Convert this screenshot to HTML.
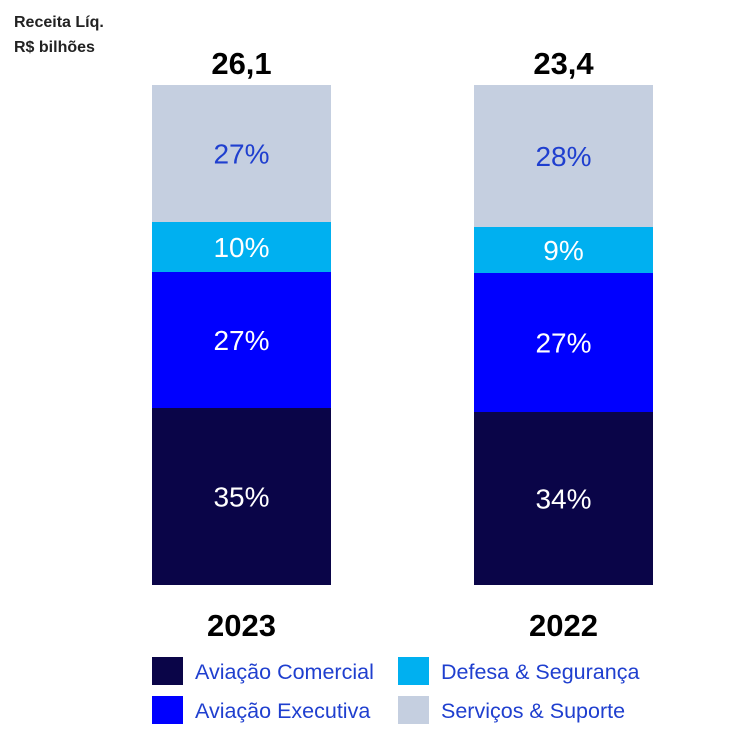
<!DOCTYPE html>
<html><head><meta charset="utf-8"><style>
body{margin:0;background:#fff;}
svg{display:block;font-family:"Liberation Sans",sans-serif;}
</style></head><body>
<svg id="chart" width="738" height="741" viewBox="0 0 738 741">
<text x="14" y="27" font-size="16" font-weight="bold" fill="#222">Receita Líq.</text>
<text x="14" y="52" font-size="16" font-weight="bold" fill="#222">R$ bilhões</text>
<g id="bars"></g>
<g id="legend"></g>
</svg>
<script>
const categories = ["2023","2022"];
const totals = ["26,1","23,4"];
const seriesNames = ["Aviação Comercial","Aviação Executiva","Defesa & Segurança","Serviços & Suporte"];
const comercial = [35.4, 34.6];
const executiva = [27.2, 27.8];
const defesa = [10.0, 9.2];
const servicos = [27.4, 28.4];
const labelComercial = ["35%","34%"];
const labelExecutiva = ["27%","27%"];
const labelDefesa = ["10%","9%"];
const labelServicos = ["27%","28%"];

const colors = ["#0a0548","#0000ff","#00b0f0","#c5cfe0"];
const textColors = ["#fff","#fff","#fff","#1f3fcf"];
const series = [comercial, executiva, defesa, servicos];
const labels = [labelComercial, labelExecutiva, labelDefesa, labelServicos];
const NS = "http://www.w3.org/2000/svg";
const top0 = 85, bottom0 = 585, barW = 179;
const xPos = i => 152 + i * 322;
const yScale = v => bottom0 - v / 100 * (bottom0 - top0);
const g = document.getElementById("bars");
function mk(tag, attrs, parent){const e=document.createElementNS(NS,tag);for(const k in attrs)e.setAttribute(k,attrs[k]);parent.appendChild(e);return e;}
categories.forEach((c, i) => {
  const tot = series.reduce((s, a) => s + a[i], 0);
  let cum = 0;
  series.forEach((arr, s) => {
    const v = arr[i] / tot * 100;
    const y1 = yScale(cum), y2 = yScale(cum + v);
    const r = mk("rect", {x: xPos(i), y: y2, width: barW, height: y1 - y2, fill: colors[s]}, g);
    
    
    const t = mk("text", {x: xPos(i) + barW/2, y: (y1 + y2)/2 + 10, "font-size": 28, "text-anchor": "middle", fill: textColors[s]}, g);
    t.textContent = labels[s][i];
    
    
    cum += v;
  });
  const tt = mk("text", {x: xPos(i) + barW/2, y: 74, "font-size": 31, "font-weight": "bold", "text-anchor": "middle", fill: "#000"}, g);
  tt.textContent = totals[i];
  
  
  const ct = mk("text", {x: xPos(i) + barW/2, y: 636, "font-size": 31, "font-weight": "bold", "text-anchor": "middle", fill: "#000"}, g);
  ct.textContent = c;
  
  
});
const lg = document.getElementById("legend");
const legPos = [[152,657],[152,696],[398,657],[398,696]];
seriesNames.forEach((n, s) => {
  const [x, y] = legPos[s];
  const r = mk("rect", {x: x, y: y, width: 31, height: 28, fill: colors[s]}, lg);
  
  
  const t = mk("text", {x: x + 43, y: y + 22, "font-size": 21.5, fill: "#1f3fcf"}, lg);
  t.textContent = n;
  
  
});
</script>
</body></html>
